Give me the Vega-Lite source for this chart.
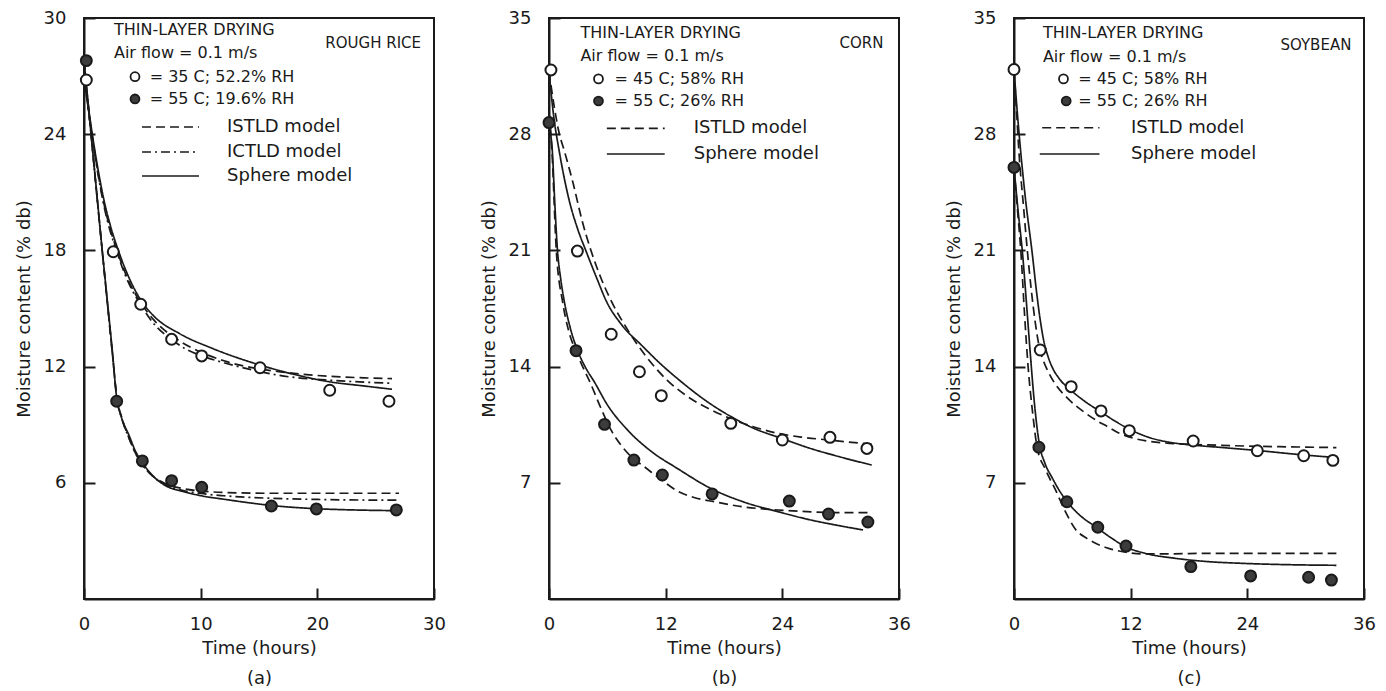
{
  "$schema": "https://vega.github.io/schema/vega-lite/v6.json",
  "background": "white",
  "padding": {"left": 14, "top": 8, "right": 5, "bottom": 2},
  "spacing": 115,
  "bounds": "flush",
  "config": {
    "font": "DejaVu Sans",
    "view": {"stroke": "#1a1a1a", "strokeWidth": 2},
    "axis": {
      "grid": false,
      "domainColor": "#1a1a1a",
      "domainWidth": 2,
      "tickColor": "#1a1a1a",
      "tickWidth": 2,
      "tickSize": -11,
      "labelFontSize": 18,
      "labelColor": "#1a1a1a",
      "labelFlush": false,
      "labelOverlap": false,
      "titleFontSize": 18,
      "titleFontWeight": "normal",
      "titleColor": "#1a1a1a"
    },
    "axisX": {"labelPadding": 27, "titlePadding": 6, "titleLineHeight": 30},
    "axisY": {"labelPadding": 29, "titlePadding": 10}
  },
  "resolve": {"scale": {"x": "independent", "y": "independent"}},
  "datasets": {
    "curves": [
      {"panel":"a","cond":"open","model":"Sphere","t":0,"m":27},{"panel":"a","cond":"open","model":"Sphere","t":0.35,"m":25.5},{"panel":"a","cond":"open","model":"Sphere","t":0.71,"m":24},{"panel":"a","cond":"open","model":"Sphere","t":1.2,"m":22.2},{"panel":"a","cond":"open","model":"Sphere","t":1.71,"m":20.6},{"panel":"a","cond":"open","model":"Sphere","t":2.3,"m":19.2},{"panel":"a","cond":"open","model":"Sphere","t":2.94,"m":18.0},{"panel":"a","cond":"open","model":"Sphere","t":4,"m":16.4},{"panel":"a","cond":"open","model":"Sphere","t":4.86,"m":15.44},{"panel":"a","cond":"open","model":"Sphere","t":6,"m":14.6},{"panel":"a","cond":"open","model":"Sphere","t":8.14,"m":13.72},{"panel":"a","cond":"open","model":"Sphere","t":11,"m":12.94},{"panel":"a","cond":"open","model":"Sphere","t":15.09,"m":12.08},{"panel":"a","cond":"open","model":"Sphere","t":18,"m":11.6},{"panel":"a","cond":"open","model":"Sphere","t":21,"m":11.22},{"panel":"a","cond":"open","model":"Sphere","t":24,"m":11.0},{"panel":"a","cond":"open","model":"Sphere","t":26.4,"m":10.83},
      {"panel":"a","cond":"open","model":"ISTLD","t":0,"m":27},{"panel":"a","cond":"open","model":"ISTLD","t":0.35,"m":25.4},{"panel":"a","cond":"open","model":"ISTLD","t":0.71,"m":23.9},{"panel":"a","cond":"open","model":"ISTLD","t":1.2,"m":22.0},{"panel":"a","cond":"open","model":"ISTLD","t":1.71,"m":20.4},{"panel":"a","cond":"open","model":"ISTLD","t":2.3,"m":19.0},{"panel":"a","cond":"open","model":"ISTLD","t":2.94,"m":17.8},{"panel":"a","cond":"open","model":"ISTLD","t":4,"m":16.2},{"panel":"a","cond":"open","model":"ISTLD","t":4.86,"m":15.3},{"panel":"a","cond":"open","model":"ISTLD","t":6,"m":14.4},{"panel":"a","cond":"open","model":"ISTLD","t":8,"m":13.4},{"panel":"a","cond":"open","model":"ISTLD","t":10,"m":12.75},{"panel":"a","cond":"open","model":"ISTLD","t":12,"m":12.3},{"panel":"a","cond":"open","model":"ISTLD","t":15,"m":11.88},{"panel":"a","cond":"open","model":"ISTLD","t":16.7,"m":11.74},{"panel":"a","cond":"open","model":"ISTLD","t":21,"m":11.5},{"panel":"a","cond":"open","model":"ISTLD","t":24,"m":11.42},{"panel":"a","cond":"open","model":"ISTLD","t":26.4,"m":11.38},
      {"panel":"a","cond":"open","model":"ICTLD","t":0,"m":27},{"panel":"a","cond":"open","model":"ICTLD","t":0.71,"m":23.8},{"panel":"a","cond":"open","model":"ICTLD","t":1.71,"m":20.3},{"panel":"a","cond":"open","model":"ICTLD","t":2.94,"m":17.7},{"panel":"a","cond":"open","model":"ICTLD","t":4,"m":16.1},{"panel":"a","cond":"open","model":"ICTLD","t":4.86,"m":15.2},{"panel":"a","cond":"open","model":"ICTLD","t":6,"m":14.2},{"panel":"a","cond":"open","model":"ICTLD","t":7.5,"m":13.4},{"panel":"a","cond":"open","model":"ICTLD","t":8.6,"m":12.95},{"panel":"a","cond":"open","model":"ICTLD","t":10.1,"m":12.55},{"panel":"a","cond":"open","model":"ICTLD","t":12,"m":12.2},{"panel":"a","cond":"open","model":"ICTLD","t":15,"m":11.75},{"panel":"a","cond":"open","model":"ICTLD","t":16.7,"m":11.55},{"panel":"a","cond":"open","model":"ICTLD","t":21,"m":11.3},{"panel":"a","cond":"open","model":"ICTLD","t":24,"m":11.2},{"panel":"a","cond":"open","model":"ICTLD","t":26.4,"m":11.14},
      {"panel":"a","cond":"filled","model":"Sphere","t":0,"m":27.8},{"panel":"a","cond":"filled","model":"Sphere","t":0.35,"m":25.6},{"panel":"a","cond":"filled","model":"Sphere","t":0.7,"m":23.4},{"panel":"a","cond":"filled","model":"Sphere","t":1.14,"m":20.66},{"panel":"a","cond":"filled","model":"Sphere","t":1.4,"m":19.0},{"panel":"a","cond":"filled","model":"Sphere","t":2.0,"m":15.4},{"panel":"a","cond":"filled","model":"Sphere","t":2.43,"m":12.8},{"panel":"a","cond":"filled","model":"Sphere","t":2.8,"m":10.4},{"panel":"a","cond":"filled","model":"Sphere","t":3.2,"m":9.4},{"panel":"a","cond":"filled","model":"Sphere","t":3.86,"m":8.45},{"panel":"a","cond":"filled","model":"Sphere","t":4.4,"m":7.65},{"panel":"a","cond":"filled","model":"Sphere","t":5,"m":7.05},{"panel":"a","cond":"filled","model":"Sphere","t":6,"m":6.3},{"panel":"a","cond":"filled","model":"Sphere","t":7,"m":5.85},{"panel":"a","cond":"filled","model":"Sphere","t":8.5,"m":5.55},{"panel":"a","cond":"filled","model":"Sphere","t":10.14,"m":5.32},{"panel":"a","cond":"filled","model":"Sphere","t":12,"m":5.15},{"panel":"a","cond":"filled","model":"Sphere","t":14,"m":4.98},{"panel":"a","cond":"filled","model":"Sphere","t":16.06,"m":4.83},{"panel":"a","cond":"filled","model":"Sphere","t":18,"m":4.73},{"panel":"a","cond":"filled","model":"Sphere","t":20,"m":4.66},{"panel":"a","cond":"filled","model":"Sphere","t":23,"m":4.6},{"panel":"a","cond":"filled","model":"Sphere","t":27,"m":4.56},
      {"panel":"a","cond":"filled","model":"ISTLD","t":0,"m":27.8},{"panel":"a","cond":"filled","model":"ISTLD","t":0.7,"m":23.4},{"panel":"a","cond":"filled","model":"ISTLD","t":1.14,"m":20.6},{"panel":"a","cond":"filled","model":"ISTLD","t":2.0,"m":15.3},{"panel":"a","cond":"filled","model":"ISTLD","t":2.43,"m":12.7},{"panel":"a","cond":"filled","model":"ISTLD","t":2.8,"m":10.5},{"panel":"a","cond":"filled","model":"ISTLD","t":3.3,"m":9.25},{"panel":"a","cond":"filled","model":"ISTLD","t":3.86,"m":8.3},{"panel":"a","cond":"filled","model":"ISTLD","t":4.4,"m":7.55},{"panel":"a","cond":"filled","model":"ISTLD","t":5,"m":6.95},{"panel":"a","cond":"filled","model":"ISTLD","t":6,"m":6.3},{"panel":"a","cond":"filled","model":"ISTLD","t":7,"m":5.95},{"panel":"a","cond":"filled","model":"ISTLD","t":8.5,"m":5.7},{"panel":"a","cond":"filled","model":"ISTLD","t":10,"m":5.58},{"panel":"a","cond":"filled","model":"ISTLD","t":12,"m":5.5},{"panel":"a","cond":"filled","model":"ISTLD","t":16,"m":5.46},{"panel":"a","cond":"filled","model":"ISTLD","t":20,"m":5.46},{"panel":"a","cond":"filled","model":"ISTLD","t":27,"m":5.46},
      {"panel":"a","cond":"filled","model":"ICTLD","t":0,"m":27.8},{"panel":"a","cond":"filled","model":"ICTLD","t":0.7,"m":23.4},{"panel":"a","cond":"filled","model":"ICTLD","t":1.14,"m":20.6},{"panel":"a","cond":"filled","model":"ICTLD","t":2.0,"m":15.3},{"panel":"a","cond":"filled","model":"ICTLD","t":2.43,"m":12.7},{"panel":"a","cond":"filled","model":"ICTLD","t":2.8,"m":10.45},{"panel":"a","cond":"filled","model":"ICTLD","t":3.3,"m":9.2},{"panel":"a","cond":"filled","model":"ICTLD","t":3.86,"m":8.3},{"panel":"a","cond":"filled","model":"ICTLD","t":4.4,"m":7.55},{"panel":"a","cond":"filled","model":"ICTLD","t":5,"m":6.95},{"panel":"a","cond":"filled","model":"ICTLD","t":6,"m":6.28},{"panel":"a","cond":"filled","model":"ICTLD","t":7,"m":5.9},{"panel":"a","cond":"filled","model":"ICTLD","t":8.5,"m":5.6},{"panel":"a","cond":"filled","model":"ICTLD","t":10,"m":5.45},{"panel":"a","cond":"filled","model":"ICTLD","t":12,"m":5.33},{"panel":"a","cond":"filled","model":"ICTLD","t":16,"m":5.2},{"panel":"a","cond":"filled","model":"ICTLD","t":20,"m":5.14},{"panel":"a","cond":"filled","model":"ICTLD","t":27,"m":5.1},

      {"panel":"b","cond":"open","model":"Sphere","t":0,"m":31.8},{"panel":"b","cond":"open","model":"Sphere","t":0.5,"m":29.0},{"panel":"b","cond":"open","model":"Sphere","t":1.03,"m":27.05},{"panel":"b","cond":"open","model":"Sphere","t":2.0,"m":24.2},{"panel":"b","cond":"open","model":"Sphere","t":3.0,"m":22.2},{"panel":"b","cond":"open","model":"Sphere","t":3.78,"m":21.0},{"panel":"b","cond":"open","model":"Sphere","t":5.0,"m":19.2},{"panel":"b","cond":"open","model":"Sphere","t":5.85,"m":18.0},{"panel":"b","cond":"open","model":"Sphere","t":7.5,"m":16.5},{"panel":"b","cond":"open","model":"Sphere","t":9.5,"m":15.3},{"panel":"b","cond":"open","model":"Sphere","t":11.5,"m":14.15},{"panel":"b","cond":"open","model":"Sphere","t":13.58,"m":13.1},{"panel":"b","cond":"open","model":"Sphere","t":16,"m":12.0},{"panel":"b","cond":"open","model":"Sphere","t":18.74,"m":10.98},{"panel":"b","cond":"open","model":"Sphere","t":21,"m":10.3},{"panel":"b","cond":"open","model":"Sphere","t":23.9,"m":9.68},{"panel":"b","cond":"open","model":"Sphere","t":27,"m":9.05},{"panel":"b","cond":"open","model":"Sphere","t":30,"m":8.55},{"panel":"b","cond":"open","model":"Sphere","t":33.2,"m":8.07},
      {"panel":"b","cond":"open","model":"ISTLD","t":0,"m":31.8},{"panel":"b","cond":"open","model":"ISTLD","t":0.5,"m":29.8},{"panel":"b","cond":"open","model":"ISTLD","t":1.07,"m":28.0},{"panel":"b","cond":"open","model":"ISTLD","t":1.55,"m":27.05},{"panel":"b","cond":"open","model":"ISTLD","t":2.5,"m":25.0},{"panel":"b","cond":"open","model":"ISTLD","t":3.4,"m":22.8},{"panel":"b","cond":"open","model":"ISTLD","t":4.3,"m":21.02},{"panel":"b","cond":"open","model":"ISTLD","t":5.3,"m":19.4},{"panel":"b","cond":"open","model":"ISTLD","t":6.36,"m":18.0},{"panel":"b","cond":"open","model":"ISTLD","t":8,"m":16.3},{"panel":"b","cond":"open","model":"ISTLD","t":10,"m":14.6},{"panel":"b","cond":"open","model":"ISTLD","t":12.14,"m":13.19},{"panel":"b","cond":"open","model":"ISTLD","t":14,"m":12.3},{"panel":"b","cond":"open","model":"ISTLD","t":16.68,"m":11.39},{"panel":"b","cond":"open","model":"ISTLD","t":18.74,"m":10.85},{"panel":"b","cond":"open","model":"ISTLD","t":21,"m":10.38},{"panel":"b","cond":"open","model":"ISTLD","t":23.55,"m":9.98},{"panel":"b","cond":"open","model":"ISTLD","t":26,"m":9.75},{"panel":"b","cond":"open","model":"ISTLD","t":28.7,"m":9.58},{"panel":"b","cond":"open","model":"ISTLD","t":33.2,"m":9.32},
      {"panel":"b","cond":"filled","model":"Sphere","t":0,"m":29.3},{"panel":"b","cond":"filled","model":"Sphere","t":0.15,"m":28.2},{"panel":"b","cond":"filled","model":"Sphere","t":0.34,"m":27.0},{"panel":"b","cond":"filled","model":"Sphere","t":0.6,"m":23.8},{"panel":"b","cond":"filled","model":"Sphere","t":0.86,"m":21.1},{"panel":"b","cond":"filled","model":"Sphere","t":1.2,"m":19.3},{"panel":"b","cond":"filled","model":"Sphere","t":1.55,"m":18.0},{"panel":"b","cond":"filled","model":"Sphere","t":2.2,"m":16.3},{"panel":"b","cond":"filled","model":"Sphere","t":2.92,"m":15.0},{"panel":"b","cond":"filled","model":"Sphere","t":3.8,"m":13.9},{"panel":"b","cond":"filled","model":"Sphere","t":4.64,"m":13.1},{"panel":"b","cond":"filled","model":"Sphere","t":6.0,"m":11.7},{"panel":"b","cond":"filled","model":"Sphere","t":8.08,"m":10.18},{"panel":"b","cond":"filled","model":"Sphere","t":10.5,"m":8.9},{"panel":"b","cond":"filled","model":"Sphere","t":13.24,"m":7.85},{"panel":"b","cond":"filled","model":"Sphere","t":16.68,"m":6.65},{"panel":"b","cond":"filled","model":"Sphere","t":20,"m":5.85},{"panel":"b","cond":"filled","model":"Sphere","t":23.55,"m":5.26},{"panel":"b","cond":"filled","model":"Sphere","t":27,"m":4.75},{"panel":"b","cond":"filled","model":"Sphere","t":30,"m":4.4},{"panel":"b","cond":"filled","model":"Sphere","t":32.3,"m":4.16},
      {"panel":"b","cond":"filled","model":"ISTLD","t":0,"m":29.3},{"panel":"b","cond":"filled","model":"ISTLD","t":0.3,"m":27.0},{"panel":"b","cond":"filled","model":"ISTLD","t":0.75,"m":21.0},{"panel":"b","cond":"filled","model":"ISTLD","t":1.4,"m":17.9},{"panel":"b","cond":"filled","model":"ISTLD","t":2.0,"m":16.2},{"panel":"b","cond":"filled","model":"ISTLD","t":2.78,"m":14.9},{"panel":"b","cond":"filled","model":"ISTLD","t":3.5,"m":13.95},{"panel":"b","cond":"filled","model":"ISTLD","t":4.3,"m":12.95},{"panel":"b","cond":"filled","model":"ISTLD","t":5.3,"m":11.55},{"panel":"b","cond":"filled","model":"ISTLD","t":6.36,"m":10.2},{"panel":"b","cond":"filled","model":"ISTLD","t":7.5,"m":9.2},{"panel":"b","cond":"filled","model":"ISTLD","t":8.7,"m":8.45},{"panel":"b","cond":"filled","model":"ISTLD","t":9.8,"m":7.97},{"panel":"b","cond":"filled","model":"ISTLD","t":11.5,"m":7.2},{"panel":"b","cond":"filled","model":"ISTLD","t":13.24,"m":6.5},{"panel":"b","cond":"filled","model":"ISTLD","t":15,"m":6.1},{"panel":"b","cond":"filled","model":"ISTLD","t":17.0,"m":5.86},{"panel":"b","cond":"filled","model":"ISTLD","t":20,"m":5.55},{"panel":"b","cond":"filled","model":"ISTLD","t":23.55,"m":5.36},{"panel":"b","cond":"filled","model":"ISTLD","t":27,"m":5.25},{"panel":"b","cond":"filled","model":"ISTLD","t":30,"m":5.2},{"panel":"b","cond":"filled","model":"ISTLD","t":33.2,"m":5.2},

      {"panel":"c","cond":"open","model":"Sphere","t":0,"m":31.9},{"panel":"c","cond":"open","model":"Sphere","t":0.3,"m":29.6},{"panel":"c","cond":"open","model":"Sphere","t":0.68,"m":27.0},{"panel":"c","cond":"open","model":"Sphere","t":1.2,"m":24.0},{"panel":"c","cond":"open","model":"Sphere","t":1.88,"m":20.8},{"panel":"c","cond":"open","model":"Sphere","t":2.3,"m":18.6},{"panel":"c","cond":"open","model":"Sphere","t":2.7,"m":16.8},{"panel":"c","cond":"open","model":"Sphere","t":3.08,"m":15.5},{"panel":"c","cond":"open","model":"Sphere","t":3.45,"m":14.7},{"panel":"c","cond":"open","model":"Sphere","t":3.9,"m":14.0},{"panel":"c","cond":"open","model":"Sphere","t":4.62,"m":13.3},{"panel":"c","cond":"open","model":"Sphere","t":5.81,"m":12.6},{"panel":"c","cond":"open","model":"Sphere","t":7.3,"m":11.9},{"panel":"c","cond":"open","model":"Sphere","t":8.89,"m":11.29},{"panel":"c","cond":"open","model":"Sphere","t":10.3,"m":10.75},{"panel":"c","cond":"open","model":"Sphere","t":11.8,"m":10.25},{"panel":"c","cond":"open","model":"Sphere","t":13.8,"m":9.75},{"panel":"c","cond":"open","model":"Sphere","t":15.9,"m":9.45},{"panel":"c","cond":"open","model":"Sphere","t":18.3,"m":9.28},{"panel":"c","cond":"open","model":"Sphere","t":21.5,"m":9.12},{"panel":"c","cond":"open","model":"Sphere","t":24.95,"m":8.95},{"panel":"c","cond":"open","model":"Sphere","t":29.74,"m":8.68},{"panel":"c","cond":"open","model":"Sphere","t":33.16,"m":8.52},
      {"panel":"c","cond":"open","model":"ISTLD","t":0,"m":31.9},{"panel":"c","cond":"open","model":"ISTLD","t":0.3,"m":29.0},{"panel":"c","cond":"open","model":"ISTLD","t":0.5,"m":27.0},{"panel":"c","cond":"open","model":"ISTLD","t":1.0,"m":23.5},{"panel":"c","cond":"open","model":"ISTLD","t":1.37,"m":21.0},{"panel":"c","cond":"open","model":"ISTLD","t":1.8,"m":18.5},{"panel":"c","cond":"open","model":"ISTLD","t":2.2,"m":16.6},{"panel":"c","cond":"open","model":"ISTLD","t":2.56,"m":15.3},{"panel":"c","cond":"open","model":"ISTLD","t":3.0,"m":14.4},{"panel":"c","cond":"open","model":"ISTLD","t":3.6,"m":13.6},{"panel":"c","cond":"open","model":"ISTLD","t":4.3,"m":12.9},{"panel":"c","cond":"open","model":"ISTLD","t":5.5,"m":12.1},{"panel":"c","cond":"open","model":"ISTLD","t":7.35,"m":11.2},{"panel":"c","cond":"open","model":"ISTLD","t":8.5,"m":10.75},{"panel":"c","cond":"open","model":"ISTLD","t":9.74,"m":10.35},{"panel":"c","cond":"open","model":"ISTLD","t":10.77,"m":10.0},{"panel":"c","cond":"open","model":"ISTLD","t":12.5,"m":9.65},{"panel":"c","cond":"open","model":"ISTLD","t":13.85,"m":9.5},{"panel":"c","cond":"open","model":"ISTLD","t":16,"m":9.38},{"panel":"c","cond":"open","model":"ISTLD","t":20,"m":9.28},{"panel":"c","cond":"open","model":"ISTLD","t":25,"m":9.2},{"panel":"c","cond":"open","model":"ISTLD","t":30,"m":9.15},{"panel":"c","cond":"open","model":"ISTLD","t":33.16,"m":9.12},
      {"panel":"c","cond":"filled","model":"Sphere","t":0,"m":26.0},{"panel":"c","cond":"filled","model":"Sphere","t":0.4,"m":23.5},{"panel":"c","cond":"filled","model":"Sphere","t":0.85,"m":21.0},{"panel":"c","cond":"filled","model":"Sphere","t":1.35,"m":17.3},{"panel":"c","cond":"filled","model":"Sphere","t":1.7,"m":14.6},{"panel":"c","cond":"filled","model":"Sphere","t":2.1,"m":11.8},{"panel":"c","cond":"filled","model":"Sphere","t":2.56,"m":9.5},{"panel":"c","cond":"filled","model":"Sphere","t":3.2,"m":8.15},{"panel":"c","cond":"filled","model":"Sphere","t":3.93,"m":7.3},{"panel":"c","cond":"filled","model":"Sphere","t":4.7,"m":6.5},{"panel":"c","cond":"filled","model":"Sphere","t":5.47,"m":5.86},{"panel":"c","cond":"filled","model":"Sphere","t":6.9,"m":4.98},{"panel":"c","cond":"filled","model":"Sphere","t":8.38,"m":4.36},{"panel":"c","cond":"filled","model":"Sphere","t":10,"m":3.68},{"panel":"c","cond":"filled","model":"Sphere","t":11.46,"m":3.15},{"panel":"c","cond":"filled","model":"Sphere","t":13.5,"m":2.75},{"panel":"c","cond":"filled","model":"Sphere","t":16.6,"m":2.45},{"panel":"c","cond":"filled","model":"Sphere","t":20,"m":2.25},{"panel":"c","cond":"filled","model":"Sphere","t":23.4,"m":2.15},{"panel":"c","cond":"filled","model":"Sphere","t":28,"m":2.07},{"panel":"c","cond":"filled","model":"Sphere","t":33.16,"m":2.03},
      {"panel":"c","cond":"filled","model":"ISTLD","t":0,"m":26.0},{"panel":"c","cond":"filled","model":"ISTLD","t":0.35,"m":23.5},{"panel":"c","cond":"filled","model":"ISTLD","t":0.7,"m":21.0},{"panel":"c","cond":"filled","model":"ISTLD","t":1.1,"m":17.0},{"panel":"c","cond":"filled","model":"ISTLD","t":1.45,"m":14.0},{"panel":"c","cond":"filled","model":"ISTLD","t":1.9,"m":11.3},{"panel":"c","cond":"filled","model":"ISTLD","t":2.39,"m":9.1},{"panel":"c","cond":"filled","model":"ISTLD","t":3.2,"m":7.85},{"panel":"c","cond":"filled","model":"ISTLD","t":4.27,"m":6.57},{"panel":"c","cond":"filled","model":"ISTLD","t":5.3,"m":5.25},{"panel":"c","cond":"filled","model":"ISTLD","t":6.32,"m":4.2},{"panel":"c","cond":"filled","model":"ISTLD","t":7.5,"m":3.65},{"panel":"c","cond":"filled","model":"ISTLD","t":8.6,"m":3.3},{"panel":"c","cond":"filled","model":"ISTLD","t":9.74,"m":3.05},{"panel":"c","cond":"filled","model":"ISTLD","t":11.5,"m":2.82},{"panel":"c","cond":"filled","model":"ISTLD","t":13.16,"m":2.72},{"panel":"c","cond":"filled","model":"ISTLD","t":16,"m":2.72},{"panel":"c","cond":"filled","model":"ISTLD","t":20,"m":2.75},{"panel":"c","cond":"filled","model":"ISTLD","t":33.16,"m":2.75}
    ],
    "points": [
      {"panel":"a","cond":"open","t":0.2,"m":26.8},{"panel":"a","cond":"open","t":2.51,"m":17.93},{"panel":"a","cond":"open","t":4.86,"m":15.22},{"panel":"a","cond":"open","t":7.51,"m":13.41},{"panel":"a","cond":"open","t":10.09,"m":12.55},{"panel":"a","cond":"open","t":15.09,"m":11.94},{"panel":"a","cond":"open","t":21.06,"m":10.78},{"panel":"a","cond":"open","t":26.14,"m":10.21},
      {"panel":"a","cond":"filled","t":0.2,"m":27.8},{"panel":"a","cond":"filled","t":2.8,"m":10.21},{"panel":"a","cond":"filled","t":5.0,"m":7.13},{"panel":"a","cond":"filled","t":7.51,"m":6.11},{"panel":"a","cond":"filled","t":10.09,"m":5.77},{"panel":"a","cond":"filled","t":16.06,"m":4.8},{"panel":"a","cond":"filled","t":19.92,"m":4.65},{"panel":"a","cond":"filled","t":26.77,"m":4.6},
      {"panel":"b","cond":"open","t":0.2,"m":31.87},{"panel":"b","cond":"open","t":2.92,"m":20.96},{"panel":"b","cond":"open","t":6.4,"m":15.95},{"panel":"b","cond":"open","t":9.3,"m":13.69},{"panel":"b","cond":"open","t":11.55,"m":12.25},{"panel":"b","cond":"open","t":18.7,"m":10.58},{"panel":"b","cond":"open","t":24.0,"m":9.58},{"panel":"b","cond":"open","t":28.9,"m":9.74},{"panel":"b","cond":"open","t":32.7,"m":9.07},
      {"panel":"b","cond":"filled","t":0,"m":28.7},{"panel":"b","cond":"filled","t":2.78,"m":14.96},{"panel":"b","cond":"filled","t":5.71,"m":10.52},{"panel":"b","cond":"filled","t":8.73,"m":8.37},{"panel":"b","cond":"filled","t":11.66,"m":7.47},{"panel":"b","cond":"filled","t":16.78,"m":6.33},{"panel":"b","cond":"filled","t":24.72,"m":5.9},{"panel":"b","cond":"filled","t":28.75,"m":5.12},{"panel":"b","cond":"filled","t":32.8,"m":4.64},
      {"panel":"c","cond":"open","t":0,"m":31.9},{"panel":"c","cond":"open","t":2.7,"m":15.0},{"panel":"c","cond":"open","t":5.88,"m":12.79},{"panel":"c","cond":"open","t":8.95,"m":11.33},{"panel":"c","cond":"open","t":11.86,"m":10.14},{"panel":"c","cond":"open","t":18.43,"m":9.52},{"panel":"c","cond":"open","t":25.03,"m":8.93},{"panel":"c","cond":"open","t":29.8,"m":8.63},{"panel":"c","cond":"open","t":32.8,"m":8.35},
      {"panel":"c","cond":"filled","t":0,"m":26.0},{"panel":"c","cond":"filled","t":2.56,"m":9.14},{"panel":"c","cond":"filled","t":5.44,"m":5.86},{"panel":"c","cond":"filled","t":8.62,"m":4.32},{"panel":"c","cond":"filled","t":11.52,"m":3.19},{"panel":"c","cond":"filled","t":18.19,"m":1.95},{"panel":"c","cond":"filled","t":24.34,"m":1.39},{"panel":"c","cond":"filled","t":30.3,"m":1.31},{"panel":"c","cond":"filled","t":32.65,"m":1.14}
    ],
    "legsym": [
      {"panel":"a","cond":"open","t":4.37,"m":26.97},{"panel":"a","cond":"filled","t":4.37,"m":25.82},
      {"panel":"b","cond":"open","t":5.09,"m":31.33},{"panel":"b","cond":"filled","t":5.09,"m":30.0},
      {"panel":"c","cond":"open","t":5.09,"m":31.33},{"panel":"c","cond":"filled","t":5.37,"m":30.0}
    ],
    "leglines": [
      {"panel":"a","model":"ISTLD","t":4.97,"t2":9.86,"m":24.37},{"panel":"a","model":"ICTLD","t":4.97,"t2":9.86,"m":23.08},{"panel":"a","model":"Sphere","t":4.97,"t2":9.86,"m":21.84},
      {"panel":"b","model":"ISTLD","t":5.95,"t2":11.9,"m":28.35},{"panel":"b","model":"Sphere","t":5.95,"t2":11.9,"m":26.81},
      {"panel":"c","model":"ISTLD","t":2.9,"t2":8.79,"m":28.39},{"panel":"c","model":"Sphere","t":2.65,"t2":8.79,"m":26.81}
    ],
    "labels": [
      {"panel":"a","kind":"small","t":2.57,"m":29.38,"label":"THIN-LAYER DRYING"},
      {"panel":"a","kind":"small","t":2.57,"m":28.19,"label":"Air flow = 0.1 m/s"},
      {"panel":"a","kind":"small","t":5.63,"m":26.97,"label":"= 35 C; 52.2% RH"},
      {"panel":"a","kind":"small","t":5.63,"m":25.82,"label":"= 55 C; 19.6% RH"},
      {"panel":"a","kind":"crop","t":28.89,"m":28.71,"label":"ROUGH RICE"},
      {"panel":"a","kind":"model","t":12.26,"m":24.37,"label":"ISTLD model"},
      {"panel":"a","kind":"model","t":12.26,"m":23.08,"label":"ICTLD model"},
      {"panel":"a","kind":"model","t":12.26,"m":21.84,"label":"Sphere model"},
      {"panel":"b","kind":"small","t":3.23,"m":34.1,"label":"THIN-LAYER DRYING"},
      {"panel":"b","kind":"small","t":3.23,"m":32.7,"label":"Air flow = 0.1 m/s"},
      {"panel":"b","kind":"small","t":6.74,"m":31.33,"label":"= 45 C; 58% RH"},
      {"panel":"b","kind":"small","t":6.74,"m":30.0,"label":"= 55 C; 26% RH"},
      {"panel":"b","kind":"crop","t":34.4,"m":33.47,"label":"CORN"},
      {"panel":"b","kind":"model","t":14.89,"m":28.35,"label":"ISTLD model"},
      {"panel":"b","kind":"model","t":14.89,"m":26.81,"label":"Sphere model"},
      {"panel":"c","kind":"small","t":2.97,"m":34.1,"label":"THIN-LAYER DRYING"},
      {"panel":"c","kind":"small","t":2.97,"m":32.67,"label":"Air flow = 0.1 m/s"},
      {"panel":"c","kind":"small","t":6.6,"m":31.33,"label":"= 45 C; 58% RH"},
      {"panel":"c","kind":"small","t":6.6,"m":30.0,"label":"= 55 C; 26% RH"},
      {"panel":"c","kind":"crop","t":34.7,"m":33.4,"label":"SOYBEAN"},
      {"panel":"c","kind":"model","t":12.03,"m":28.39,"label":"ISTLD model"},
      {"panel":"c","kind":"model","t":12.03,"m":26.81,"label":"Sphere model"}
    ]
  },
  "hconcat": [
    {
      "width": 350, "height": 581,
      "encoding": {
        "x": {"field": "t", "type": "quantitative", "scale": {"domain": [0, 30], "nice": false, "zero": false}, "axis": {"values": [0, 10, 20, 30], "title": ["Time (hours)", "(a)"]}},
        "y": {"field": "m", "type": "quantitative", "scale": {"domain": [0, 30], "nice": false}, "axis": {"values": [6, 12, 18, 24, 30], "title": "Moisture content (% db)"}}
      },
      "layer": [
        {"data": {"name": "curves"}, "transform": [{"filter": "datum.panel === 'a'"}],
         "mark": {"type": "line", "interpolate": "monotone", "strokeWidth": 1.7, "color": "#1a1a1a"},
         "encoding": {"strokeDash": {"field": "model", "type": "nominal", "scale": {"domain": ["ISTLD", "ICTLD", "Sphere"], "range": [[9, 5], [9, 4, 2, 4], [1, 0]]}, "legend": null}, "detail": {"field": "cond"}}},
        {"data": {"name": "leglines"}, "transform": [{"filter": "datum.panel === 'a'"}],
         "mark": {"type": "rule", "strokeWidth": 1.6, "color": "#1a1a1a"},
         "encoding": {"x2": {"field": "t2"}, "strokeDash": {"field": "model", "type": "nominal", "scale": {"domain": ["ISTLD", "ICTLD", "Sphere"], "range": [[9, 5], [9, 4, 2, 4], [1, 0]]}, "legend": null}}},
        {"data": {"name": "points"}, "transform": [{"filter": "datum.panel === 'a'"}],
         "mark": {"type": "circle", "size": 120, "stroke": "#1a1a1a", "strokeWidth": 2, "opacity": 1},
         "encoding": {"fill": {"field": "cond", "type": "nominal", "scale": {"domain": ["open", "filled"], "range": ["#ffffff", "#3c3c3c"]}, "legend": null}}},
        {"data": {"name": "legsym"}, "transform": [{"filter": "datum.panel === 'a'"}],
         "mark": {"type": "circle", "size": 80, "stroke": "#1a1a1a", "strokeWidth": 1.8, "opacity": 1},
         "encoding": {"fill": {"field": "cond", "type": "nominal", "scale": {"domain": ["open", "filled"], "range": ["#ffffff", "#3c3c3c"]}, "legend": null}}},
        {"data": {"name": "labels"}, "transform": [{"filter": "datum.panel === 'a' && datum.kind === 'small'"}],
         "mark": {"type": "text", "align": "left", "baseline": "middle", "fontSize": 16, "color": "#1a1a1a"},
         "encoding": {"text": {"field": "label"}}},
        {"data": {"name": "labels"}, "transform": [{"filter": "datum.panel === 'a' && datum.kind === 'crop'"}],
         "mark": {"type": "text", "align": "right", "baseline": "middle", "fontSize": 15, "color": "#1a1a1a"},
         "encoding": {"text": {"field": "label"}}},
        {"data": {"name": "labels"}, "transform": [{"filter": "datum.panel === 'a' && datum.kind === 'model'"}],
         "mark": {"type": "text", "align": "left", "baseline": "middle", "fontSize": 18, "color": "#1a1a1a"},
         "encoding": {"text": {"field": "label"}}}
      ]
    },
    {
      "width": 350, "height": 581,
      "encoding": {
        "x": {"field": "t", "type": "quantitative", "scale": {"domain": [0, 36], "nice": false, "zero": false}, "axis": {"values": [0, 12, 24, 36], "title": ["Time (hours)", "(b)"]}},
        "y": {"field": "m", "type": "quantitative", "scale": {"domain": [0, 35], "nice": false}, "axis": {"values": [7, 14, 21, 28, 35], "title": "Moisture content (% db)"}}
      },
      "layer": [
        {"data": {"name": "curves"}, "transform": [{"filter": "datum.panel === 'b'"}],
         "mark": {"type": "line", "interpolate": "monotone", "strokeWidth": 1.7, "color": "#1a1a1a"},
         "encoding": {"strokeDash": {"field": "model", "type": "nominal", "scale": {"domain": ["ISTLD", "ICTLD", "Sphere"], "range": [[10, 5], [9, 4, 2, 4], [1, 0]]}, "legend": null}, "detail": {"field": "cond"}}},
        {"data": {"name": "leglines"}, "transform": [{"filter": "datum.panel === 'b'"}],
         "mark": {"type": "rule", "strokeWidth": 1.6, "color": "#1a1a1a"},
         "encoding": {"x2": {"field": "t2"}, "strokeDash": {"field": "model", "type": "nominal", "scale": {"domain": ["ISTLD", "ICTLD", "Sphere"], "range": [[10, 5], [9, 4, 2, 4], [1, 0]]}, "legend": null}}},
        {"data": {"name": "points"}, "transform": [{"filter": "datum.panel === 'b'"}],
         "mark": {"type": "circle", "size": 120, "stroke": "#1a1a1a", "strokeWidth": 2, "opacity": 1},
         "encoding": {"fill": {"field": "cond", "type": "nominal", "scale": {"domain": ["open", "filled"], "range": ["#ffffff", "#3c3c3c"]}, "legend": null}}},
        {"data": {"name": "legsym"}, "transform": [{"filter": "datum.panel === 'b'"}],
         "mark": {"type": "circle", "size": 80, "stroke": "#1a1a1a", "strokeWidth": 1.8, "opacity": 1},
         "encoding": {"fill": {"field": "cond", "type": "nominal", "scale": {"domain": ["open", "filled"], "range": ["#ffffff", "#3c3c3c"]}, "legend": null}}},
        {"data": {"name": "labels"}, "transform": [{"filter": "datum.panel === 'b' && datum.kind === 'small'"}],
         "mark": {"type": "text", "align": "left", "baseline": "middle", "fontSize": 16, "color": "#1a1a1a"},
         "encoding": {"text": {"field": "label"}}},
        {"data": {"name": "labels"}, "transform": [{"filter": "datum.panel === 'b' && datum.kind === 'crop'"}],
         "mark": {"type": "text", "align": "right", "baseline": "middle", "fontSize": 15, "color": "#1a1a1a"},
         "encoding": {"text": {"field": "label"}}},
        {"data": {"name": "labels"}, "transform": [{"filter": "datum.panel === 'b' && datum.kind === 'model'"}],
         "mark": {"type": "text", "align": "left", "baseline": "middle", "fontSize": 18, "color": "#1a1a1a"},
         "encoding": {"text": {"field": "label"}}}
      ]
    },
    {
      "width": 350, "height": 581,
      "encoding": {
        "x": {"field": "t", "type": "quantitative", "scale": {"domain": [0, 36], "nice": false, "zero": false}, "axis": {"values": [0, 12, 24, 36], "title": ["Time (hours)", "(c)"]}},
        "y": {"field": "m", "type": "quantitative", "scale": {"domain": [0, 35], "nice": false}, "axis": {"values": [7, 14, 21, 28, 35], "title": "Moisture content (% db)"}}
      },
      "layer": [
        {"data": {"name": "curves"}, "transform": [{"filter": "datum.panel === 'c'"}],
         "mark": {"type": "line", "interpolate": "monotone", "strokeWidth": 1.7, "color": "#1a1a1a"},
         "encoding": {"strokeDash": {"field": "model", "type": "nominal", "scale": {"domain": ["ISTLD", "ICTLD", "Sphere"], "range": [[10, 5], [9, 4, 2, 4], [1, 0]]}, "legend": null}, "detail": {"field": "cond"}}},
        {"data": {"name": "leglines"}, "transform": [{"filter": "datum.panel === 'c'"}],
         "mark": {"type": "rule", "strokeWidth": 1.6, "color": "#1a1a1a"},
         "encoding": {"x2": {"field": "t2"}, "strokeDash": {"field": "model", "type": "nominal", "scale": {"domain": ["ISTLD", "ICTLD", "Sphere"], "range": [[10, 5], [9, 4, 2, 4], [1, 0]]}, "legend": null}}},
        {"data": {"name": "points"}, "transform": [{"filter": "datum.panel === 'c'"}],
         "mark": {"type": "circle", "size": 120, "stroke": "#1a1a1a", "strokeWidth": 2, "opacity": 1},
         "encoding": {"fill": {"field": "cond", "type": "nominal", "scale": {"domain": ["open", "filled"], "range": ["#ffffff", "#3c3c3c"]}, "legend": null}}},
        {"data": {"name": "legsym"}, "transform": [{"filter": "datum.panel === 'c'"}],
         "mark": {"type": "circle", "size": 80, "stroke": "#1a1a1a", "strokeWidth": 1.8, "opacity": 1},
         "encoding": {"fill": {"field": "cond", "type": "nominal", "scale": {"domain": ["open", "filled"], "range": ["#ffffff", "#3c3c3c"]}, "legend": null}}},
        {"data": {"name": "labels"}, "transform": [{"filter": "datum.panel === 'c' && datum.kind === 'small'"}],
         "mark": {"type": "text", "align": "left", "baseline": "middle", "fontSize": 16, "color": "#1a1a1a"},
         "encoding": {"text": {"field": "label"}}},
        {"data": {"name": "labels"}, "transform": [{"filter": "datum.panel === 'c' && datum.kind === 'crop'"}],
         "mark": {"type": "text", "align": "right", "baseline": "middle", "fontSize": 15, "color": "#1a1a1a"},
         "encoding": {"text": {"field": "label"}}},
        {"data": {"name": "labels"}, "transform": [{"filter": "datum.panel === 'c' && datum.kind === 'model'"}],
         "mark": {"type": "text", "align": "left", "baseline": "middle", "fontSize": 18, "color": "#1a1a1a"},
         "encoding": {"text": {"field": "label"}}}
      ]
    }
  ]
}
